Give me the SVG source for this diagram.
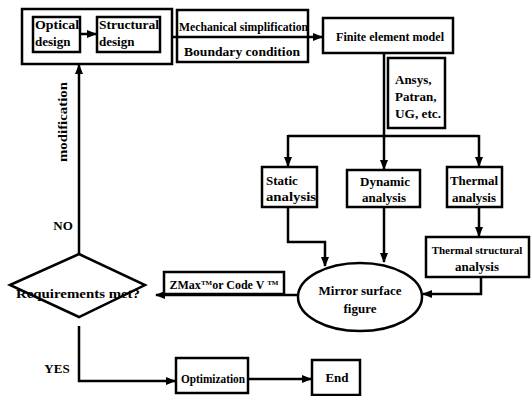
<svg xmlns="http://www.w3.org/2000/svg" width="532" height="396" viewBox="0 0 532 396">
<defs>
<marker id="ah" viewBox="0 0 10 10" refX="9" refY="5" markerWidth="4" markerHeight="4" orient="auto" markerUnits="strokeWidth">
<path d="M0,1 L10,5 L0,9 z" fill="#000"/>
</marker>
<style>
.b{fill:#fff;stroke:#000;stroke-width:2.5}
.c{fill:none;stroke:#000;stroke-width:2.5}
.a{marker-end:url(#ah)}
text{font-family:"Liberation Serif","DejaVu Serif",serif;font-size:13px;font-weight:bold;fill:#000}
.m{text-anchor:middle}
.s11{font-size:11px}
.s12{font-size:12px}
</style>
</defs>
<rect width="532" height="396" fill="#fff"/>
<g id="design">
<rect class="b" x="22" y="9" width="150" height="55"/>
</g>
<g id="optical">
<rect class="b" x="33" y="17" width="47" height="35"/>
<text x="35" y="29" textLength="44" lengthAdjust="spacingAndGlyphs">Optical</text>
<text x="35" y="46">design</text>
</g>
<g id="structural">
<rect class="b" x="97" y="17" width="63" height="35"/>
<text x="99" y="29" textLength="60" lengthAdjust="spacingAndGlyphs">Structural</text>
<text x="99" y="46">design</text>
</g>
<g id="mechanical">
<rect class="b" x="177" y="10" width="131" height="52"/>
<text x="179" y="31" textLength="129" lengthAdjust="spacingAndGlyphs">Mechanical simplification</text>
<text x="242" y="56" class="m" textLength="116" lengthAdjust="spacingAndGlyphs">Boundary condition</text>
</g>
<g id="fem">
<rect class="b" x="323" y="18" width="130" height="35"/>
<text x="390" y="41" class="m" textLength="108" lengthAdjust="spacingAndGlyphs">Finite element model</text>
</g>
<g id="tools">
<rect class="b" x="388" y="58" width="57" height="70"/>
<text x="395" y="84">Ansys,</text>
<text x="395" y="101">Patran,</text>
<text x="395" y="118" textLength="46" lengthAdjust="spacingAndGlyphs">UG, etc.</text>
</g>
<g id="static">
<rect class="b" x="262" y="167" width="55" height="40"/>
<text x="266" y="185">Static</text>
<text x="266" y="201" textLength="50" lengthAdjust="spacingAndGlyphs">analysis</text>
</g>
<g id="dynamic">
<rect class="b" x="347" y="170" width="73" height="37"/>
<text x="385" y="186" class="m">Dynamic</text>
<text x="384" y="202" class="m">analysis</text>
</g>
<g id="thermal">
<rect class="b" x="447" y="167" width="55" height="40"/>
<text x="450" y="185" textLength="48" lengthAdjust="spacingAndGlyphs">Thermal</text>
<text x="474" y="202" class="m">analysis</text>
</g>
<g id="thermalstruct">
<rect class="b" x="426" y="237" width="103" height="40"/>
<text x="477" y="254" class="m s11">Thermal structural</text>
<text x="477" y="271" class="m">analysis</text>
</g>
<g id="mirror">
<ellipse class="b" cx="360" cy="297" rx="62" ry="34"/>
<text x="360" y="295" class="m">Mirror surface</text>
<text x="360" y="313" class="m">figure</text>
</g>
<g id="zmax">
<rect class="b" x="164" y="272" width="120" height="22"/>
<text x="224" y="289" class="m s12">ZMax<tspan font-size="7" baseline-shift="super">TM</tspan>or Code V <tspan font-size="7" baseline-shift="super">TM</tspan></text>
</g>
<g id="requirements">
<polygon class="b" points="10,285 79,254 145,285 79,317"/>
<text x="78" y="298" class="m" textLength="124" lengthAdjust="spacingAndGlyphs">Requirements met?</text>
</g>
<g id="optimization">
<rect class="b" x="176" y="358" width="72" height="35"/>
<text x="181" y="383" textLength="64" lengthAdjust="spacingAndGlyphs">Optimization</text>
</g>
<g id="end">
<rect class="b" x="312" y="360" width="48" height="35"/>
<text x="337" y="382" class="m">End</text>
</g>
<g id="connectors">
<line class="c a" x1="80" y1="34" x2="96" y2="34"/>
<line class="c" x1="172" y1="37" x2="177" y2="37"/>
<line class="c a" x1="177" y1="37" x2="322" y2="37"/>
<polyline class="c" points="384,53 384,136"/>
<polyline class="c" points="288,136 479,136"/>
<line class="c a" x1="288" y1="135" x2="288" y2="166"/>
<line class="c a" x1="384" y1="135" x2="384" y2="169"/>
<line class="c a" x1="479" y1="135" x2="479" y2="166"/>
<line class="c a" x1="479" y1="207" x2="479" y2="236"/>
<polyline class="c a" points="288,207 288,242 325,242 325,266"/>
<line class="c a" x1="384" y1="207" x2="384" y2="262"/>
<polyline class="c a" points="481,277 481,294 423,294"/>
<line class="c a" x1="298" y1="295" x2="156" y2="295"/>
<line class="c a" x1="79" y1="254" x2="79" y2="65"/>
<polyline class="c a" points="79,326 79,381 175,381"/>
<line class="c a" x1="248" y1="379" x2="311" y2="379"/>
</g>
<g id="labels">
<text x="67" y="122" class="m" transform="rotate(-90 67 122)" textLength="80" lengthAdjust="spacingAndGlyphs">modification</text>
<text x="63" y="230" class="m">NO</text>
<text x="57" y="373" class="m">YES</text>
</g>
</svg>
